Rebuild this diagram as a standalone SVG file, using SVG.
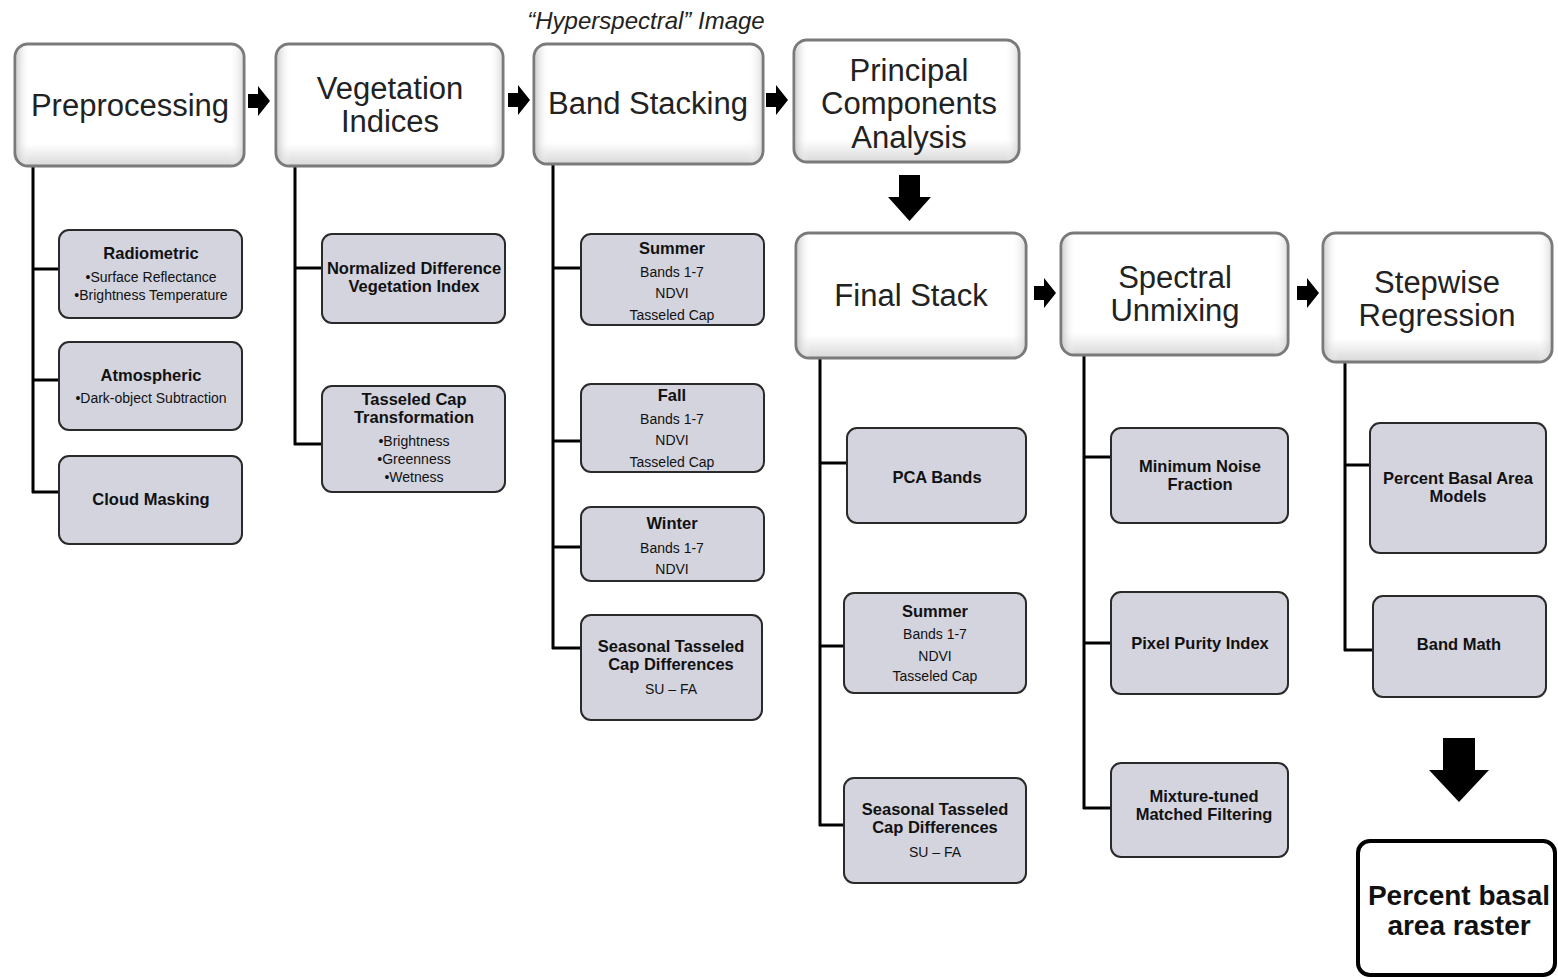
<svg xmlns="http://www.w3.org/2000/svg" width="1558" height="979" viewBox="0 0 1558 979">
<defs>
<linearGradient id="gv" x1="0" y1="0" x2="0" y2="1">
<stop offset="0" stop-color="#ffffff"/><stop offset="0.82" stop-color="#ffffff"/><stop offset="1" stop-color="#d8d8d8"/>
</linearGradient>
<linearGradient id="gh" x1="0" y1="0" x2="1" y2="0">
<stop offset="0" stop-color="#c8c8c8" stop-opacity="0.8"/><stop offset="0.06" stop-color="#ffffff" stop-opacity="0"/><stop offset="0.94" stop-color="#ffffff" stop-opacity="0"/><stop offset="1" stop-color="#d0d0d0" stop-opacity="0.6"/>
</linearGradient>
<path id="ar" d="M0,-7 h10 v-8 l12,15 l-12,15 v-8 h-10 z"/>
</defs>
<style>
.main rect.b{fill:url(#gv);stroke:#7a7a7a;stroke-width:3}
.main rect.o{fill:url(#gh);stroke:none}
.main text{font-family:"Liberation Sans",Arial,sans-serif;font-size:31px;fill:#222;text-anchor:middle}
.sub rect{fill:#d4d4de;stroke:#2a2a2a;stroke-width:2}
.sub text{font-family:"Liberation Sans",Arial,sans-serif;text-anchor:middle;fill:#111}
.t{font-size:16.5px;font-weight:bold}
.s{font-size:14px;fill:#333}
.conn line{stroke:#000;stroke-width:3}
.conn path,.conn use{fill:#000}
.cap{font-family:"Liberation Sans",Arial,sans-serif;font-style:italic;font-size:24px;fill:#222;text-anchor:middle}
</style>
<rect width="1558" height="979" fill="#ffffff"/>
<text class="cap" x="646" y="29">“Hyperspectral” Image</text>

<g id="connectors" class="conn">
<line x1="33" y1="166" x2="33" y2="493"/>
<line x1="32" y1="269" x2="60" y2="269"/>
<line x1="32" y1="380" x2="60" y2="380"/>
<line x1="32" y1="492" x2="60" y2="492"/>
<line x1="295" y1="166" x2="295" y2="445"/>
<line x1="294" y1="268" x2="323" y2="268"/>
<line x1="294" y1="444" x2="323" y2="444"/>
<line x1="553" y1="164" x2="553" y2="649"/>
<line x1="552" y1="268" x2="582" y2="268"/>
<line x1="552" y1="441" x2="582" y2="441"/>
<line x1="552" y1="547" x2="582" y2="547"/>
<line x1="552" y1="648" x2="582" y2="648"/>
<line x1="820" y1="358" x2="820" y2="826"/>
<line x1="819" y1="463" x2="848" y2="463"/>
<line x1="819" y1="646" x2="845" y2="646"/>
<line x1="819" y1="825" x2="845" y2="825"/>
<line x1="1084" y1="355" x2="1084" y2="809"/>
<line x1="1083" y1="457" x2="1112" y2="457"/>
<line x1="1083" y1="643" x2="1112" y2="643"/>
<line x1="1083" y1="808" x2="1112" y2="808"/>
<line x1="1345" y1="362" x2="1345" y2="651"/>
<line x1="1344" y1="465" x2="1371" y2="465"/>
<line x1="1344" y1="650" x2="1374" y2="650"/>
<use href="#ar" x="248" y="101"/>
<use href="#ar" x="508" y="100"/>
<use href="#ar" x="766" y="100"/>
<use href="#ar" x="1034" y="293"/>
<use href="#ar" x="1297" y="293"/>
<path d="M899,175 h21 v22 h11 l-21.5,24 l-21.5,-24 h11 z"/>
<path d="M1443,738 h32 v32 h14 l-30,32 l-30,-32 h14 z"/>
</g>

<g id="preprocessing" class="main">
<rect class="b" x="15" y="44" width="229" height="122" rx="13"/>
<rect class="o" x="16.5" y="45.5" width="226" height="119" rx="12"/>
<text x="130" y="116">Preprocessing</text>
</g>
<g id="vegetation-indices" class="main">
<rect class="b" x="276" y="44" width="227" height="122" rx="13"/>
<rect class="o" x="277.5" y="45.5" width="224" height="119" rx="12"/>
<text x="390" y="99">Vegetation</text>
<text x="390" y="132">Indices</text>
</g>
<g id="band-stacking" class="main">
<rect class="b" x="534" y="44" width="229" height="120" rx="13"/>
<rect class="o" x="535.5" y="45.5" width="226" height="117" rx="12"/>
<text x="648" y="114">Band Stacking</text>
</g>
<g id="pca" class="main">
<rect class="b" x="794" y="40" width="225" height="122" rx="13"/>
<rect class="o" x="795.5" y="41.5" width="222" height="119" rx="12"/>
<text x="909" y="81">Principal</text>
<text x="909" y="114">Components</text>
<text x="909" y="148">Analysis</text>
</g>
<g id="final-stack" class="main">
<rect class="b" x="796" y="233" width="230" height="125" rx="13"/>
<rect class="o" x="797.5" y="234.5" width="227" height="122" rx="12"/>
<text x="911" y="306">Final Stack</text>
</g>
<g id="spectral-unmixing" class="main">
<rect class="b" x="1061" y="233" width="227" height="122" rx="13"/>
<rect class="o" x="1062.5" y="234.5" width="224" height="119" rx="12"/>
<text x="1175" y="288">Spectral</text>
<text x="1175" y="321">Unmixing</text>
</g>
<g id="stepwise-regression" class="main">
<rect class="b" x="1323" y="233" width="229" height="129" rx="13"/>
<rect class="o" x="1324.5" y="234.5" width="226" height="126" rx="12"/>
<text x="1437" y="293">Stepwise</text>
<text x="1437" y="326">Regression</text>
</g>

<g id="radiometric" class="sub">
<rect x="59" y="230" width="183" height="88" rx="10"/>
<text class="t" x="151" y="259">Radiometric</text>
<text class="s" x="151" y="282">•Surface Reflectance</text>
<text class="s" x="151" y="300">•Brightness Temperature</text>
</g>
<g id="atmospheric" class="sub">
<rect x="59" y="342" width="183" height="88" rx="10"/>
<text class="t" x="151" y="381">Atmospheric</text>
<text class="s" x="151" y="403">•Dark-object Subtraction</text>
</g>
<g id="cloud-masking" class="sub">
<rect x="59" y="456" width="183" height="88" rx="10"/>
<text class="t" x="151" y="505">Cloud Masking</text>
</g>
<g id="ndvi" class="sub">
<rect x="322" y="234" width="183" height="89" rx="10"/>
<text class="t" x="414" y="274">Normalized Difference</text>
<text class="t" x="414" y="292">Vegetation Index</text>
</g>
<g id="tasseled-cap" class="sub">
<rect x="322" y="386" width="183" height="106" rx="10"/>
<text class="t" x="414" y="405">Tasseled Cap</text>
<text class="t" x="414" y="423">Transformation</text>
<text class="s" x="414" y="446">•Brightness</text>
<text class="s" x="414" y="464">•Greenness</text>
<text class="s" x="414" y="482">•Wetness</text>
</g>
<g id="bs-summer" class="sub">
<rect x="581" y="234" width="183" height="91" rx="10"/>
<text class="t" x="672" y="254">Summer</text>
<text class="s" x="672" y="277">Bands 1-7</text>
<text class="s" x="672" y="298">NDVI</text>
<text class="s" x="672" y="320">Tasseled Cap</text>
</g>
<g id="bs-fall" class="sub">
<rect x="581" y="384" width="183" height="88" rx="10"/>
<text class="t" x="672" y="401">Fall</text>
<text class="s" x="672" y="424">Bands 1-7</text>
<text class="s" x="672" y="445">NDVI</text>
<text class="s" x="672" y="467">Tasseled Cap</text>
</g>
<g id="bs-winter" class="sub">
<rect x="581" y="507" width="183" height="74" rx="10"/>
<text class="t" x="672" y="529">Winter</text>
<text class="s" x="672" y="553">Bands 1-7</text>
<text class="s" x="672" y="574">NDVI</text>
</g>
<g id="bs-seasonal" class="sub">
<rect x="581" y="615" width="181" height="105" rx="10"/>
<text class="t" x="671" y="652">Seasonal Tasseled</text>
<text class="t" x="671" y="670">Cap Differences</text>
<text class="s" x="671" y="694">SU – FA</text>
</g>
<g id="pca-bands" class="sub">
<rect x="847" y="428" width="179" height="95" rx="10"/>
<text class="t" x="937" y="483">PCA Bands</text>
</g>
<g id="fs-summer" class="sub">
<rect x="844" y="593" width="182" height="100" rx="10"/>
<text class="t" x="935" y="617">Summer</text>
<text class="s" x="935" y="639">Bands 1-7</text>
<text class="s" x="935" y="661">NDVI</text>
<text class="s" x="935" y="681">Tasseled Cap</text>
</g>
<g id="fs-seasonal" class="sub">
<rect x="844" y="778" width="182" height="105" rx="10"/>
<text class="t" x="935" y="815">Seasonal Tasseled</text>
<text class="t" x="935" y="833">Cap Differences</text>
<text class="s" x="935" y="857">SU – FA</text>
</g>
<g id="mnf" class="sub">
<rect x="1111" y="428" width="177" height="95" rx="10"/>
<text class="t" x="1200" y="472">Minimum Noise</text>
<text class="t" x="1200" y="490">Fraction</text>
</g>
<g id="ppi" class="sub">
<rect x="1111" y="592" width="177" height="102" rx="10"/>
<text class="t" x="1200" y="649">Pixel Purity Index</text>
</g>
<g id="mtmf" class="sub">
<rect x="1111" y="763" width="177" height="94" rx="10"/>
<text class="t" x="1204" y="802">Mixture-tuned</text>
<text class="t" x="1204" y="820">Matched Filtering</text>
</g>
<g id="pba-models" class="sub">
<rect x="1370" y="423" width="176" height="130" rx="10"/>
<text class="t" x="1458" y="484">Percent Basal Area</text>
<text class="t" x="1458" y="502">Models</text>
</g>
<g id="band-math" class="sub">
<rect x="1373" y="596" width="173" height="101" rx="10"/>
<text class="t" x="1459" y="650">Band Math</text>
</g>
<g id="raster">
<rect x="1358" y="841" width="197" height="134" rx="12" fill="#ffffff" stroke="#000" stroke-width="4"/>
<text x="1459" y="905" font-family="Liberation Sans,Arial,sans-serif" font-size="28" font-weight="bold" text-anchor="middle" fill="#111">Percent basal</text>
<text x="1459" y="935" font-family="Liberation Sans,Arial,sans-serif" font-size="28" font-weight="bold" text-anchor="middle" fill="#111">area raster</text>
</g>
</svg>
